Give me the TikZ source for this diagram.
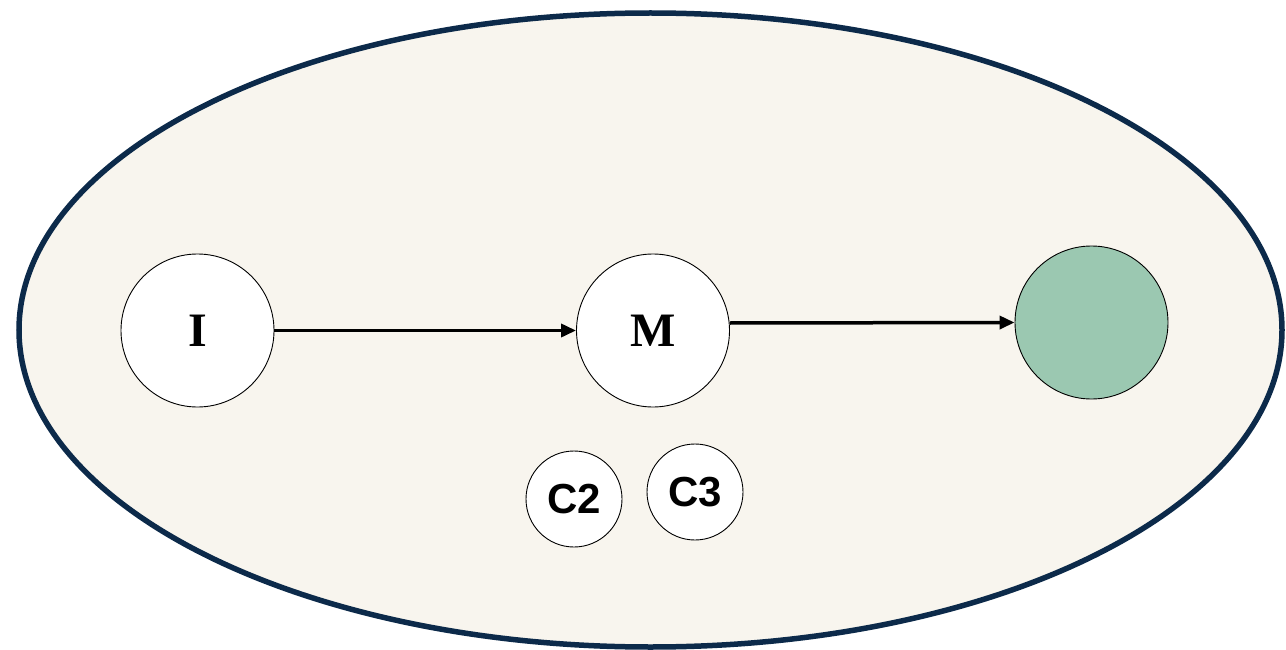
\documentclass[tikz,border=0pt]{standalone}
\usepackage{fontspec}
\setmainfont{Liberation Serif}
\newfontfamily\labelsans{Liberation Sans}
\usetikzlibrary{arrows.meta}
\definecolor{bgfill}{RGB}{248,245,238}
\definecolor{navy}{RGB}{12,42,74}
\definecolor{sage}{RGB}{155,200,177}
\tikzset{
  bignode/.style={circle, draw=black, line width=0.9pt, fill=white, inner sep=0pt,
    minimum size=153pt, font=\fontsize{48}{48}\selectfont\bfseries},
  smallnode/.style={circle, draw=black, line width=0.9pt, fill=white, inner sep=0pt,
    minimum size=96pt, font=\labelsans\fontsize{42}{42}\selectfont\bfseries},
  flow/.style={line width=3.5pt, -{Triangle[length=15pt,width=13pt]}}
}
\begin{document}
\begin{tikzpicture}[x=1pt, y=-1pt]
  \useasboundingbox (0,0) rectangle (1286,650);
  % outer ellipse
  \draw[navy, line width=5.5pt, fill=bgfill] (650.5,330) ellipse [x radius=631.5, y radius=317];
  % main chain
  \node[bignode] (I) at (197.5,330.5) {I};
  \node[bignode] (M) at (653,330.5) {M};
  \node[bignode, fill=sage] (G) at (1091.5,322.5) {};
  % covariates
  \node[smallnode] (C2) at (574,499) {C2};
  \node[smallnode] (C3) at (695,492) {C3};
  % connectors
  \draw[flow] (I.east) -- (M.west);
  \draw[flow] ([yshift=7.5pt]M.east) -- (G.west);
\end{tikzpicture}
\end{document}
